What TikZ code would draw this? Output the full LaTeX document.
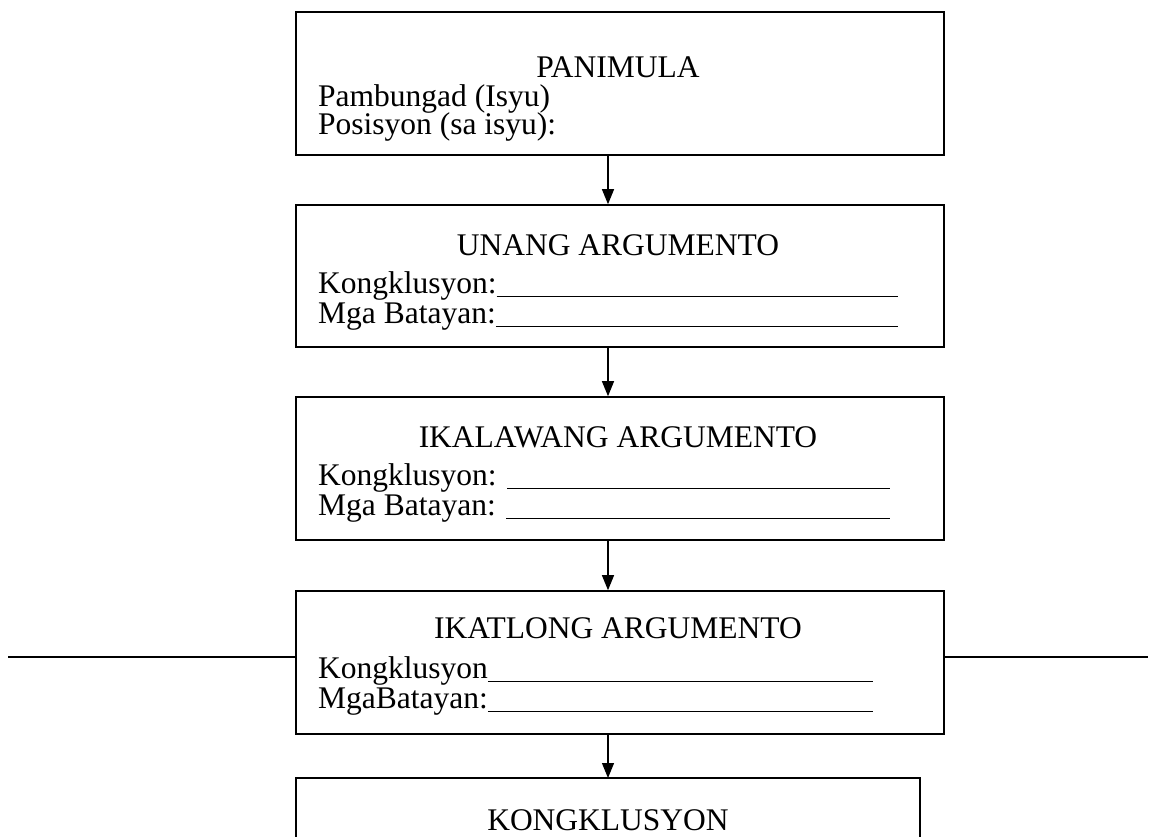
\documentclass[tikz,border=0pt]{standalone}
\usepackage{fontspec}
\setmainfont{Liberation Serif}
\usetikzlibrary{arrows.meta}
\tikzset{
  box/.style={draw, line width=1.6pt, minimum width=648pt, inner sep=0pt},
  txt/.style={anchor=base west, inner sep=0pt, font=\fontsize{31.5}{36}\selectfont},
  head/.style={anchor=base, inner sep=0pt, font=\fontsize{31.5}{36}\selectfont},
  flow/.style={line width=1.2pt, -{Triangle[length=15pt,width=12pt]}},
  rulel/.style={line width=1.1pt}
}
\newcommand{\fillline}[2]{\makebox[#1pt][l]{#2\leaders\hrule height -2.5pt depth 4pt\hfill}}
\begin{document}
\begin{tikzpicture}[x=1pt,y=-1pt]
\useasboundingbox (0,0) rectangle (1149,836);
% boxes
\node[box, minimum height=143pt] (b1) at (620,83.5) {};
\node[box, minimum height=142pt] (b2) at (620,276) {};
\node[box, minimum height=143pt] (b3) at (620,468.5) {};
\node[box, minimum height=143pt] (b4) at (620,662.5) {};
\coordinate (b5top) at (608,778);
\draw[line width=1.6pt] (296,840) -- (296,778) -- (920,778) -- (920,840);
% texts box 1
\node[head] (h1) at (618,77) {PANIMULA};
\node[txt] (t1a) at (318,106) {Pambungad (Isyu)};
\node[txt] (t1b) at (318,134) {Posisyon (sa isyu):};
% box 2
\node[head] (h2) at (618,255) {UNANG ARGUMENTO};
\node[txt] (t2a) at (318,293) {\fillline{580}{Kongklusyon:}};
\node[txt] (t2b) at (318,323) {\fillline{580}{Mga Batayan:}};
% box 3
\node[head] (h3) at (618,447) {IKALAWANG ARGUMENTO};
\node[txt] (t3a) at (318,485) {\fillline{572}{Kongklusyon: }};
\node[txt] (t3b) at (318,515) {\fillline{572}{Mga Batayan: }};
% box 4
\node[head] (h4) at (618,638) {IKATLONG ARGUMENTO};
\node[txt] (t4a) at (318,678) {\fillline{555}{Kongklusyon}};
\node[txt] (t4b) at (318,708) {\fillline{555}{MgaBatayan:}};
% box 5
\node[head] (h5) at (608,830) {KONGKLUSYON};
% arrows
\draw[flow] (b1.south -| 608,0) -- (b2.north -| 608,0);
\draw[flow] (b2.south -| 608,0) -- (b3.north -| 608,0);
\draw[flow] (b3.south -| 608,0) -- (b4.north -| 608,0);
\draw[flow] (b4.south -| 608,0) -- (b5top);
% horizontal line
\coordinate (hl) at (8,657);
\coordinate (hr) at (1148,657);
\draw[rulel] (hl) -- (b4.west |- hl);
\draw[rulel] (b4.east |- hr) -- (hr);
\end{tikzpicture}
\end{document}
